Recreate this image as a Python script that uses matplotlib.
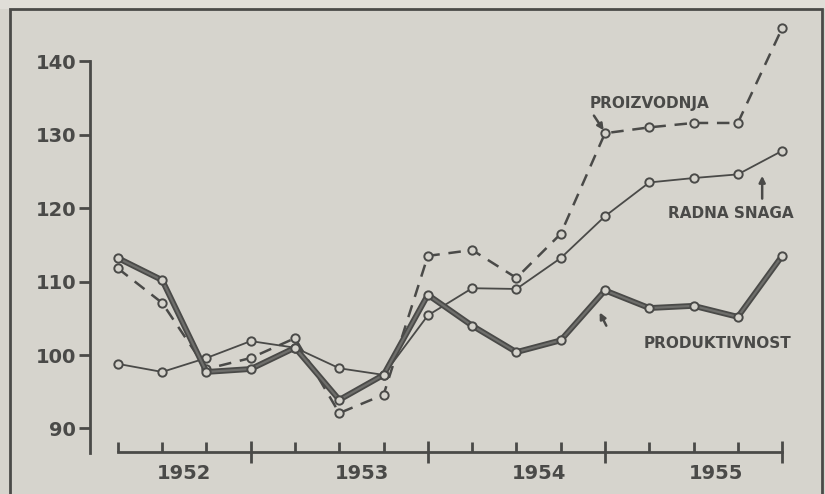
import matplotlib
matplotlib.use("Agg")
import matplotlib.pyplot as plt
from matplotlib.patches import Rectangle
import numpy as np

quarters = list(range(16))
years = ["1952", "1953", "1954", "1955"]
year_pos = [1.5, 5.5, 9.5, 13.5]
yticks = [90, 100, 110, 120, 130, 140]

produktivnost = [113.2, 110.2, 97.7, 98.1, 101.0, 93.9, 97.3, 108.2,
                 104.0, 100.4, 102.0, 108.8, 106.4, 106.7, 105.2, 113.5]
radna_snaga = [98.8, 97.7, 99.6, 101.9, 101.0, 98.2, 97.3, 105.4,
               109.1, 109.0, 113.2, 118.9, 123.5, 124.1, 124.6, 127.8]
proizvodnja = [111.8, 107.1, 98.1, 99.6, 102.3, 92.1, 94.6, 113.5,
               114.3, 110.5, 116.5, 130.2, 131.0, 131.6, 131.6, 144.5]

BG = "#d6d4cd"
INK = "#4a4a48"

fig = plt.figure(figsize=(8.25, 4.94), dpi=100)
fig.patch.set_facecolor(BG)

# lighter strip above the frame
fig.add_artist(Rectangle((0, 1 - 9/494), 1, 9/494, transform=fig.transFigure,
                         facecolor="#e0ded8", edgecolor="none"))
# frame around the chart
fig.add_artist(Rectangle((10/825, -0.05), (822-10)/825, 1.05 - 9/494,
                         transform=fig.transFigure, fill=False,
                         edgecolor=INK, lw=2.0))

ax = fig.add_axes([90/825, 1-452/494, (810-90)/825, (452-15)/494])
ax.set_facecolor(BG)
ax.patch.set_alpha(0)
ax.set_xlim(-0.63, 15.63)
ax.set_ylim(86.8, 146.3)

for s in ["top", "right"]:
    ax.spines[s].set_visible(False)
ax.spines["left"].set_bounds(86.7, 140)
ax.spines["bottom"].set_bounds(0, 15)
for s in ["left", "bottom"]:
    ax.spines[s].set_color(INK)
    ax.spines[s].set_linewidth(2.0)

ax.set_yticks(yticks)
ax.set_yticklabels([str(v) for v in yticks], fontsize=14, fontweight="bold",
                   color=INK)
ax.tick_params(axis="y", direction="out", length=8, width=2, color=INK, pad=2)

ax.set_xticks([3, 7, 11, 15])
ax.set_xticklabels([])
ax.set_xticks([0, 1, 2, 4, 5, 6, 8, 9, 10, 12, 13, 14], minor=True)
ax.tick_params(axis="x", which="major", direction="inout", length=16,
               width=2, color=INK)
ax.tick_params(axis="x", which="minor", direction="in", length=7,
               width=2, color=INK)

for yp, yl in zip(year_pos, years):
    ax.text(yp, -0.05, yl, transform=ax.get_xaxis_transform(),
            ha="center", va="center", fontsize=14, fontweight="bold",
            color=INK)

mk = dict(marker="o", markersize=6, markerfacecolor=BG,
          markeredgecolor=INK, markeredgewidth=1.4)

ax.plot(quarters, radna_snaga, color=INK, lw=1.3, zorder=3, **mk)
ax.plot(quarters, proizvodnja, color=INK, lw=1.8, dashes=(5, 3.5),
        zorder=3, **mk)
ax.plot(quarters, produktivnost, color=INK, lw=4.2, zorder=4,
        solid_joinstyle="round")
ax.plot(quarters, produktivnost, color="#6e6e6b", lw=1.6, zorder=5,
        solid_joinstyle="round", **mk)

lab = dict(fontsize=11, fontweight="bold", color=INK, ha="center",
           va="center", family="DejaVu Sans")
ax.text(12.0, 134.3, "PROIZVODNJA", **lab)
ax.text(13.85, 119.3, "RADNA SNAGA", **lab)
ax.text(13.55, 101.6, "PRODUKTIVNOST", **lab)

arr = dict(arrowstyle="-|>", color=INK, lw=1.8, mutation_scale=9,
           shrinkA=0, shrinkB=0)
ax.annotate("", xy=(10.97, 130.6), xytext=(10.75, 132.6), arrowprops=arr)
ax.annotate("", xy=(14.55, 124.4), xytext=(14.55, 121.3), arrowprops=arr)
ax.annotate("", xy=(10.88, 105.8), xytext=(11.03, 104.0), arrowprops=arr)

fig.savefig("out.png", dpi=100, facecolor=BG)
